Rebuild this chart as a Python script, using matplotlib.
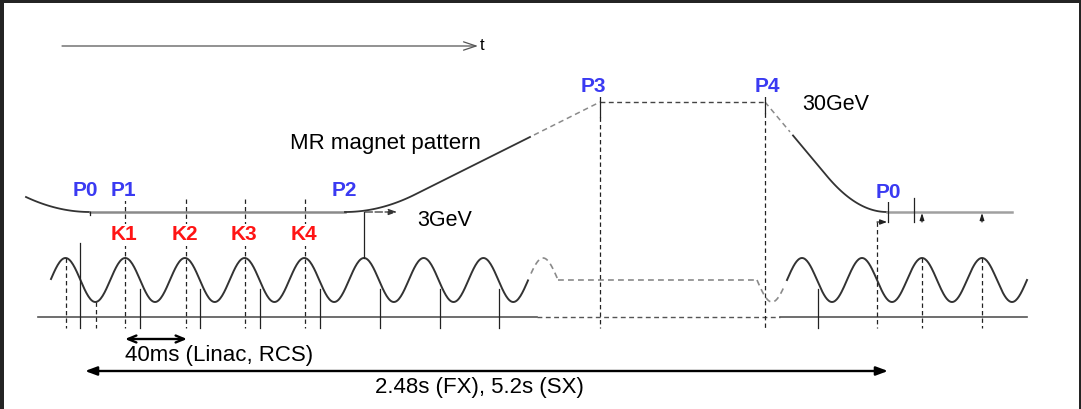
import numpy as np
import matplotlib.pyplot as plt
from matplotlib.patches import Rectangle, FancyArrowPatch

plt.rcParams['font.family'] = ['Liberation Sans', 'DejaVu Sans']

W, H = 1081, 409

# ---- timing diagram values (x = time in pixels, y grows downward) ----
inj_level = 212          # 3GeV flat bottom of the MR pattern
top_level = 102          # 30GeV flat top
ramp_up = [345, 415, 530, 600]     # start, end of rounding, end of solid part, P3
ramp_down = [765, 790, 827, 887]   # P4, end of dashed part, start of rounding, flat again
flat_end = 1012

wave_mid = 280
wave_amp = 22
left_period = 59.7
right_period = 60.0
left_peaks = [65.5, 125, 186, 245, 305, 364, 424, 483]
right_peaks = [802, 862, 922, 982]
left_wave_span = [51, 528, 557.6]      # solid start, solid end, dashed end
right_wave_span = [757, 787, 1027]     # dashed start, solid start, end
baseline_y = 317
baseline_span = [38, 537, 780, 1027]
tick_bottom = 328

k_names = ["K1", "K2", "K3", "K4"]
k_times = [125, 186, 245, 305]
p_names = ["P0", "P1", "P2", "P3", "P4", "P0"]
p_label_x = [85.5, 123.5, 344, 593.5, 767.5, 888.5]
p_label_y = [191, 191, 191, 87, 87, 192]
solid_ticks = [140, 200, 260, 320, 380, 440, 499, 818]
dashed_peak_ticks = [65.5, 922, 982]

blue = '#3a3af2'
red = '#ff1414'
dark = '#333333'
grey = '#8a8a8a'
dash = (0, (3.5, 2.5))

fig = plt.figure(figsize=(W / 100, H / 100), dpi=100, facecolor='#242424')
ax = fig.add_axes([0, 0, 1, 1])
ax.set_xlim(0, W)
ax.set_ylim(H, 0)
ax.axis('off')
ax.add_patch(Rectangle((4, 3), 1075, 410, facecolor='white', edgecolor='none', zorder=0))


def arrow(x0, y0, x1, y1, style, lw=1.0, color='black', ls='-', z=3):
    a = FancyArrowPatch((x0, y0), (x1, y1), arrowstyle=style, mutation_scale=1,
                        lw=lw, color=color, linestyle=ls, shrinkA=0, shrinkB=0, zorder=z)
    ax.add_patch(a)


# time axis
arrow(62, 46, 478, 46, '->,head_length=9,head_width=3', lw=0.9, color='#555555')
ax.text(480, 46, 't', fontsize=12, va='center', ha='left')

# ---- MR magnet pattern ----
p0 = 90
x = np.linspace(26, p0, 60)
ax.plot(x, inj_level - 15 * ((p0 - x) / 64) ** 2, color=dark, lw=1.3)
ax.plot([p0, ramp_up[0]], [inj_level, inj_level], color=grey, lw=1.8)

s_up = 0.5
L_up = ramp_up[1] - ramp_up[0]


def up(x):
    u = x - ramp_up[0]
    return np.where(u < L_up, inj_level - s_up * u ** 2 / (2 * L_up),
                    inj_level - s_up * L_up / 2 - s_up * (u - L_up))


x = np.linspace(ramp_up[0], ramp_up[2], 120)
ax.plot(x, up(x), color=dark, lw=1.3)
x = np.linspace(ramp_up[2] + 4, ramp_up[3], 40)
ax.plot(x, up(x), color=grey, lw=1.1, linestyle=dash)
ax.plot([ramp_up[3], ramp_down[0]], [top_level, top_level], color='#444444', lw=1.0, linestyle=dash)

L_dn = ramp_down[3] - ramp_down[2]
s_dn = (inj_level - top_level) / (ramp_down[2] - ramp_down[0] + L_dn / 2)


def down(x):
    u = x - ramp_down[2]
    lin = top_level + s_dn * (np.minimum(x, ramp_down[2]) - ramp_down[0])
    return np.where(u < 0, lin, lin + s_dn * (u - u ** 2 / (2 * L_dn)))


x = np.linspace(ramp_down[0], ramp_down[1], 30)
ax.plot(x, down(x), color=grey, lw=1.1, linestyle=dash)
x = np.linspace(ramp_down[1] + 3, ramp_down[3], 80)
ax.plot(x, down(x), color=dark, lw=1.3)
ax.plot([ramp_down[3], flat_end], [inj_level, inj_level], color='#a0a0a0', lw=1.8)

# ---- RCS cycles (sine) ----
def left_wave(x):
    return wave_mid - wave_amp * np.cos(2 * np.pi * (x - left_peaks[0]) / left_period)


def right_wave(x):
    return wave_mid - wave_amp * np.cos(2 * np.pi * (x - right_peaks[0]) / right_period)


x = np.linspace(left_wave_span[0], left_wave_span[1], 500)
ax.plot(x, left_wave(x), color=dark, lw=1.4)
x = np.linspace(left_wave_span[1] + 3, left_wave_span[2], 40)
ax.plot(x, left_wave(x), color=grey, lw=1.2, linestyle=dash)
ax.plot([left_wave_span[2], right_wave_span[0]], [wave_mid, wave_mid], color=grey, lw=1.2, linestyle=dash)
x = np.linspace(right_wave_span[0], right_wave_span[1] - 3, 40)
ax.plot(x, right_wave(x), color=grey, lw=1.2, linestyle=dash)
x = np.linspace(right_wave_span[1], right_wave_span[2], 300)
ax.plot(x, right_wave(x), color=dark, lw=1.4)

# baseline
ax.plot(baseline_span[:2], [baseline_y] * 2, color='#555555', lw=1.2)
ax.plot(baseline_span[1:3], [baseline_y] * 2, color='#555555', lw=1.0, linestyle=dash)
ax.plot(baseline_span[2:], [baseline_y] * 2, color='#555555', lw=1.2)

# ---- vertical markers ----
vkw = dict(color='#222222', lw=0.9)
for t in solid_ticks:
    ax.plot([t, t], [289, tick_bottom], **vkw)
ax.plot([80, 80], [243, tick_bottom], **vkw)
ax.plot([96, 96], [left_wave(96), tick_bottom], linestyle=dash, **vkw)
for t in dashed_peak_ticks:
    ax.plot([t, t], [wave_mid - wave_amp, tick_bottom], linestyle=dash, **vkw)
for t in k_times:
    ax.plot([t, t], [199, tick_bottom], linestyle=dash, **vkw)
ax.plot([p0, p0], [inj_level, inj_level + 3], **vkw)
ax.plot([left_peaks[5]] * 2, [inj_level, wave_mid - wave_amp], **vkw)
arrow(365, inj_level, 397, inj_level, '-|>,head_length=5,head_width=1.8', lw=0.9, color=dark, ls=(0, (6, 2)))

for t, y_solid in [(ramp_up[3], 117), (ramp_down[0], 113)]:
    ax.plot([t, t], [97, y_solid], **vkw)
    ax.plot([t, t], [y_solid, tick_bottom], linestyle=dash, **vkw)

# extraction / next injection marks
ax.plot([877, 877], [222, tick_bottom], linestyle=dash, **vkw)
arrow(877, 222, 887, 222, '-|>,head_length=4,head_width=1.5', lw=0.9, color='#222222')
ax.plot([888, 888], [200, 222], **vkw)
ax.plot([914, 914], [198, 222], **vkw)
for t in dashed_peak_ticks[1:]:
    arrow(t, 222, t, inj_level + 1, '-|>,head_length=4,head_width=1.3', lw=0.9, color='#222222')

# ---- labels ----
for name, lx, ly in zip(p_names, p_label_x, p_label_y):
    ax.text(lx, ly, name, color=blue, fontsize=15, fontweight='bold', ha='center', va='center',
            bbox=dict(facecolor='white', edgecolor='none', pad=0.5))
for name, t in zip(k_names, k_times):
    ax.text(t - 1, 235, name, color=red, fontsize=15, fontweight='bold', ha='center', va='center',
            bbox=dict(facecolor='white', edgecolor='none', pad=1))

ax.text(385, 143, 'MR magnet pattern', fontsize=16, ha='center', va='center')
ax.text(417, 221, '3GeV', fontsize=15.5, ha='left', va='center')
ax.text(802, 105, '30GeV', fontsize=15.5, ha='left', va='center')

arrow(125, 339, 187, 339, '<->,head_length=6,head_width=2.5', lw=1.7)
ax.text(125, 355, '40ms (Linac, RCS)', fontsize=16, ha='left', va='center')
arrow(85, 371, 888, 371, '<|-|>,head_length=7,head_width=2.6', lw=1.7)
ax.text(479, 388, '2.48s (FX), 5.2s (SX)', fontsize=16, ha='center', va='center')

fig.savefig('out.png', dpi=100, facecolor=fig.get_facecolor())
